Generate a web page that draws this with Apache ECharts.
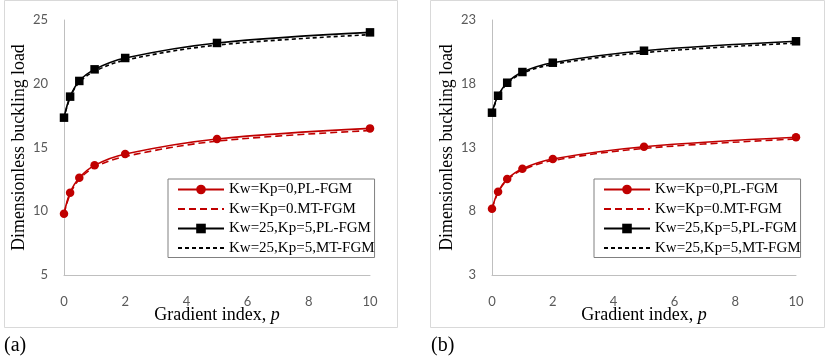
<!DOCTYPE html>
<html><head><meta charset="utf-8">
<script src="https://cdn.jsdelivr.net/npm/echarts@6/dist/echarts.min.js"></script>
<style>html,body{margin:0;padding:0;background:#fff}#c{width:830px;height:359px}</style>
</head><body><div id="c"></div>
<script>
// ---- data ----
const pValues = [0, 0.2, 0.5, 1, 2, 5, 10];
const seriesNames = ['Kw=Kp=0,PL-FGM', 'Kw=Kp=0.MT-FGM', 'Kw=25,Kp=5,PL-FGM', 'Kw=25,Kp=5,MT-FGM'];
// chart (a)
const a_PL0  = [9.81, 11.46, 12.63, 13.60, 14.49, 15.67, 16.50];
const a_MT0  = [9.78, 11.35, 12.50, 13.45, 14.30, 15.50, 16.33];
const a_PL25 = [17.34, 18.99, 20.22, 21.13, 22.02, 23.20, 24.03];
const a_MT25 = [17.30, 18.93, 20.12, 20.98, 21.85, 23.03, 23.85];
// chart (b)
const b_PL0  = [8.20, 9.53, 10.53, 11.34, 12.10, 13.06, 13.80];
const b_MT0  = [8.18, 9.47, 10.45, 11.24, 11.98, 12.93, 13.67];
const b_PL25 = [15.73, 17.06, 18.08, 18.92, 19.65, 20.59, 21.33];
const b_MT25 = [15.70, 17.01, 18.01, 18.82, 19.52, 20.44, 21.19];
// tick labels
const xTicks = [0, 2, 4, 6, 8, 10];
const aYTicks = [5, 10, 15, 20, 25];
const bYTicks = [3, 8, 13, 18, 23];
const yTitle = 'Dimensionless buckling load';
const xTitle = 'Gradient index, ';
const xTitleVar = 'p';
const panelLabels = ['(a)', '(b)'];

const pair = arr => pValues.map((p, i) => [p, arr[i]]);
const serif = '"Liberation Serif", "Times New Roman", serif';
const sans = 'Lato, "Open Sans", sans-serif';

const styles = [
  {color: '#c00000', type: 'solid', symbol: 'circle', width: 1.6},
  {color: '#c00000', type: [7, 4], symbol: 'none', width: 1.6},
  {color: '#000000', type: 'solid', symbol: 'rect', width: 1.6},
  {color: '#000000', type: [4, 3], symbol: 'none', width: 1.6}
];

function mkSeries(dataArrs, idx) {
  return dataArrs.map((arr, k) => ({
    name: seriesNames[k],
    type: 'line',
    xAxisIndex: idx, yAxisIndex: idx,
    data: pair(arr),
    smooth: 0.35,
    symbol: styles[k].symbol,
    symbolSize: 8.5,
    showSymbol: styles[k].symbol !== 'none',
    itemStyle: {color: styles[k].color},
    lineStyle: {color: styles[k].color, type: styles[k].type, width: styles[k].width},
    z: 10 - k,
    animation: false
  }));
}

function xAxis(idx) {
  return {
    gridIndex: idx, type: 'value', min: 0, max: 10, interval: 2,
    axisLine: {show: true, lineStyle: {color: '#bfbfbf', width: 1}},
    axisTick: {show: false}, splitLine: {show: false},
    axisLabel: {color: '#595959', fontFamily: sans, fontSize: 13, margin: 20,
      customValues: xTicks},
    name: '{a|' + xTitle + '}{b|' + xTitleVar + '}',
    nameLocation: 'middle', nameGap: 31, nameMoveOverlap: false,
    nameTextStyle: {rich: {
      a: {fontFamily: serif, fontSize: 18, color: '#000'},
      b: {fontFamily: serif, fontSize: 18, color: '#000', fontStyle: 'italic'}
    }}
  };
}
function yAxis(idx, ticks) {
  return {
    gridIndex: idx, type: 'value', min: ticks[0], max: ticks[ticks.length - 1],
    axisLine: {show: true, lineStyle: {color: '#bfbfbf', width: 1}},
    axisTick: {show: false}, splitLine: {show: false},
    axisLabel: {color: '#595959', fontFamily: sans, fontSize: 13, margin: 16,
      customValues: ticks},
    name: yTitle, nameLocation: 'middle', nameGap: 36, nameMoveOverlap: false,
    nameTextStyle: {fontFamily: serif, fontSize: 17.8, color: '#000'}
  };
}
function legendData() {
  return seriesNames.map((n, k) => styles[k].symbol === 'none'
    ? {name: n, itemStyle: {opacity: 0}}
    : {name: n});
}
function legend(idx, left) {
  return {
    show: true, orient: 'vertical', left: left, top: 179,
    data: legendData(),
    itemWidth: 46, itemHeight: 12, itemGap: 4.5, itemTextGap: 5,
    padding: [3, 0, 2, 9],
    borderColor: '#808080', borderWidth: 1,
    textStyle: {fontFamily: serif, fontSize: 15, color: '#000'},
    selectedMode: false
  };
}

const chart = echarts.init(document.getElementById('c'), null, {renderer: 'canvas'});
chart.setOption({
  animation: false,
  backgroundColor: '#fff',
  grid: [
    {left: 64, top: 20, width: 306, height: 255},
    {left: 492, top: 20, width: 304, height: 255}
  ],
  xAxis: [xAxis(0), xAxis(1)],
  yAxis: [yAxis(0, aYTicks), yAxis(1, bYTicks)],
  legend: [legend(0, 168), legend(1, 594)],
  series: [
    ...mkSeries([a_PL0, a_MT0, a_PL25, a_MT25], 0),
    ...mkSeries([b_PL0, b_MT0, b_PL25, b_MT25], 1)
  ],
  graphic: [
    {type: 'rect', shape: {x: 4.5, y: 0.5, width: 393, height: 327}, style: {fill: 'none', stroke: '#d9d9d9', lineWidth: 1}, z: -1},
    {type: 'rect', shape: {x: 430.5, y: 0.5, width: 394, height: 327}, style: {fill: 'none', stroke: '#d9d9d9', lineWidth: 1}, z: -1},
    {type: 'text', left: 4, top: 336, style: {text: panelLabels[0], font: '20px ' + serif, fill: '#000'}},
    {type: 'text', left: 431, top: 336, style: {text: panelLabels[1], font: '20px ' + serif, fill: '#000'}}
  ]
});
</script></body></html>
